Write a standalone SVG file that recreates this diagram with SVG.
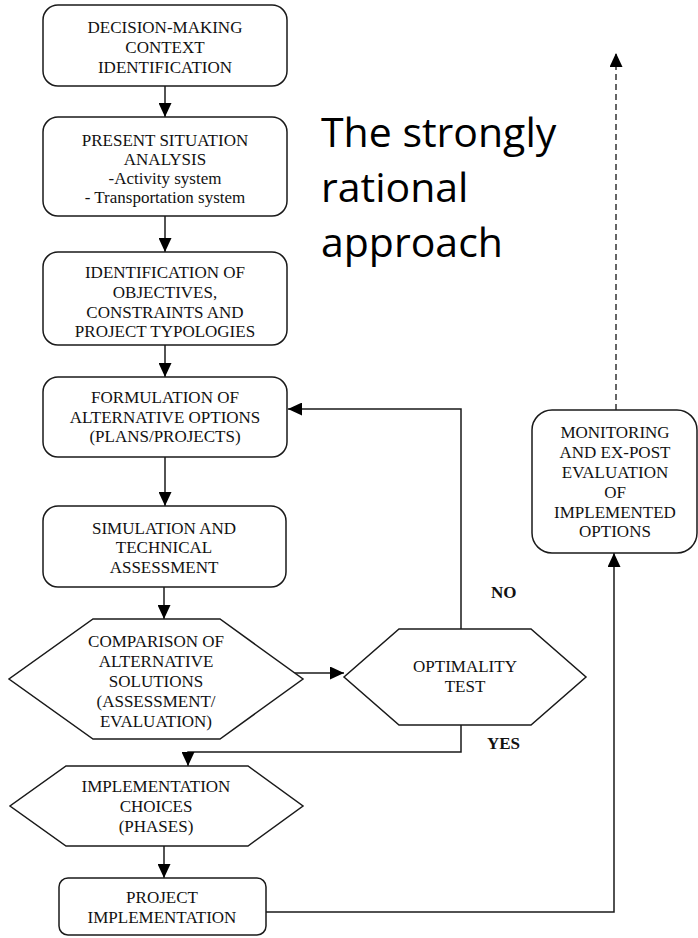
<svg xmlns="http://www.w3.org/2000/svg" width="698" height="938" viewBox="0 0 698 938">
<style>
.n{fill:#fff;stroke:#1a1a1a;stroke-width:1.5}
.t{font-family:"Liberation Serif","Times New Roman",serif;font-size:17px;fill:#111;text-anchor:middle}
.b{font-family:"Liberation Serif","Times New Roman",serif;font-size:17px;font-weight:bold;fill:#111}
.c{fill:none;stroke:#1a1a1a;stroke-width:1.5}
.d{fill:none;stroke:#333;stroke-width:1.5;stroke-dasharray:6,4}
.h{font-family:"Open Sans","Noto Sans",sans-serif;font-size:41px;fill:#000}
</style>
<defs>
<marker id="a" viewBox="0 0 14 13" refX="14" refY="6.5" markerWidth="14" markerHeight="13" markerUnits="userSpaceOnUse" orient="auto">
<path d="M0,0L14,6.5L0,13Z" fill="#000"/>
</marker>
</defs>
<rect width="698" height="938" fill="#fff"/>
<g id="title">
<text class="h" x="321" y="147">The strongly</text>
<text class="h" x="321" y="202">rational</text>
<text class="h" x="321" y="257">approach</text>
</g>
<g id="connectors">
<line class="c" x1="165" y1="86" x2="165" y2="117" marker-end="url(#a)"/>
<line class="c" x1="165" y1="216" x2="165" y2="252" marker-end="url(#a)"/>
<line class="c" x1="165" y1="345" x2="165" y2="377" marker-end="url(#a)"/>
<line class="c" x1="165" y1="457" x2="165" y2="506" marker-end="url(#a)"/>
<line class="c" x1="164" y1="587" x2="164" y2="619" marker-end="url(#a)"/>
<line class="c" x1="293" y1="673" x2="344" y2="673" marker-end="url(#a)"/>
<polyline class="c" points="461,629 461,409 288,409" marker-end="url(#a)"/>
<polyline class="c" points="461,725 461,752 188,752 188,766" marker-end="url(#a)"/>
<line class="c" x1="164" y1="846" x2="164" y2="878" marker-end="url(#a)"/>
<polyline class="c" points="266,912 614,912 614,553" marker-end="url(#a)"/>
<line class="d" x1="616" y1="410" x2="616" y2="53" marker-end="url(#a)"/>
<text class="b" x="491" y="598">NO</text>
<text class="b" x="487" y="749">YES</text>
</g>
<g id="n1">
<rect class="n" x="43" y="5" width="244" height="81" rx="15"/>
<text class="t" x="165" y="33">DECISION-MAKING</text>
<text class="t" x="165" y="53">CONTEXT</text>
<text class="t" x="165" y="73">IDENTIFICATION</text>
</g>
<g id="n2">
<rect class="n" x="43" y="117" width="244" height="99" rx="15"/>
<text class="t" x="165" y="146">PRESENT SITUATION</text>
<text class="t" x="165" y="165">ANALYSIS</text>
<text class="t" x="165" y="184">-Activity system</text>
<text class="t" x="165" y="203">- Transportation system</text>
</g>
<g id="n3">
<rect class="n" x="43" y="252" width="244" height="93" rx="15"/>
<text class="t" x="165" y="278">IDENTIFICATION OF</text>
<text class="t" x="165" y="298">OBJECTIVES,</text>
<text class="t" x="165" y="318">CONSTRAINTS AND</text>
<text class="t" x="165" y="337">PROJECT TYPOLOGIES</text>
</g>
<g id="n4">
<rect class="n" x="43" y="377" width="244" height="80" rx="15"/>
<text class="t" x="165" y="403">FORMULATION OF</text>
<text class="t" x="165" y="423">ALTERNATIVE OPTIONS</text>
<text class="t" x="165" y="442">(PLANS/PROJECTS)</text>
</g>
<g id="n5">
<rect class="n" x="43" y="506" width="243" height="81" rx="15"/>
<text class="t" x="164" y="534">SIMULATION AND</text>
<text class="t" x="164" y="553">TECHNICAL</text>
<text class="t" x="164" y="573">ASSESSMENT</text>
</g>
<g id="n6">
<polygon class="n" points="93,619 220,619 303,679 220,739 93,739 9,679"/>
<text class="t" x="156" y="647">COMPARISON OF</text>
<text class="t" x="156" y="667">ALTERNATIVE</text>
<text class="t" x="156" y="687">SOLUTIONS</text>
<text class="t" x="156" y="707">(ASSESSMENT/</text>
<text class="t" x="156" y="727">EVALUATION)</text>
</g>
<g id="n7">
<polygon class="n" points="399,629 531,629 586,677 531,725 399,725 344,677"/>
<text class="t" x="465" y="672">OPTIMALITY</text>
<text class="t" x="465" y="692">TEST</text>
</g>
<g id="n8">
<polygon class="n" points="66,766 248,766 303,806 248,846 66,846 10,806"/>
<text class="t" x="156" y="792">IMPLEMENTATION</text>
<text class="t" x="156" y="812">CHOICES</text>
<text class="t" x="156" y="832">(PHASES)</text>
</g>
<g id="n9">
<rect class="n" x="59" y="878" width="207" height="57" rx="9"/>
<text class="t" x="162" y="903">PROJECT</text>
<text class="t" x="162" y="923">IMPLEMENTATION</text>
</g>
<g id="n10">
<rect class="n" x="532" y="410" width="165" height="143" rx="20"/>
<text class="t" x="615" y="438">MONITORING</text>
<text class="t" x="615" y="458">AND EX-POST</text>
<text class="t" x="615" y="478">EVALUATION</text>
<text class="t" x="615" y="498">OF</text>
<text class="t" x="615" y="518">IMPLEMENTED</text>
<text class="t" x="615" y="537">OPTIONS</text>
</g>
</svg>
